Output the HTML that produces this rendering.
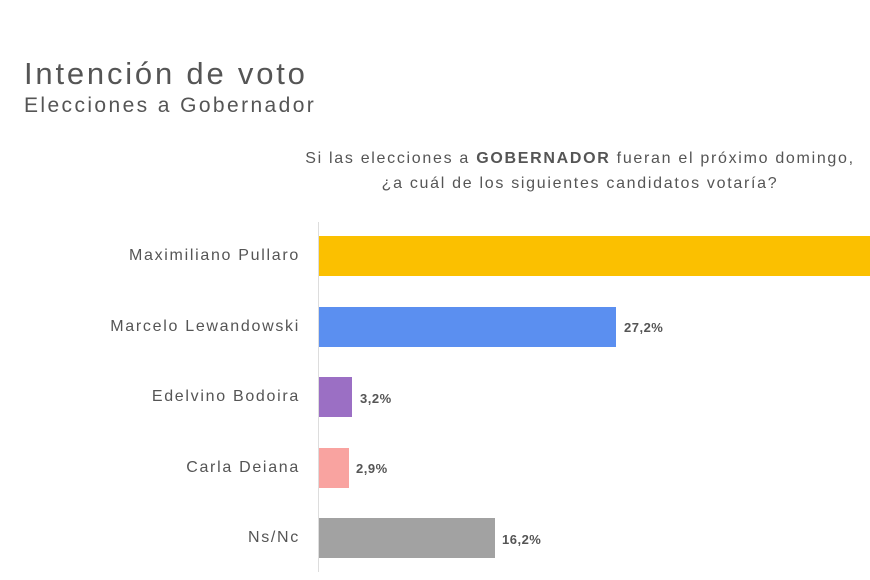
<!DOCTYPE html>
<html><head><meta charset="utf-8"><style>
body{margin:0;width:870px;height:580px;background:#fff;position:relative;overflow:hidden;font-family:"Liberation Sans",sans-serif;color:#555}
.a{position:absolute;white-space:nowrap}
.lbl{position:absolute;right:570px;font-size:16px;color:#555;text-align:right;letter-spacing:1.7px}
.bar{position:absolute;left:319px;height:40px}
.v{position:absolute;font-size:13px;font-weight:bold;color:#555;letter-spacing:0.5px}
</style></head><body>
<div class="a" style="left:24px;top:56px;font-size:31px;color:#555;letter-spacing:2.8px">Intención de voto</div>
<div class="a" style="left:24px;top:94px;font-size:21px;color:#555;letter-spacing:2.4px">Elecciones a Gobernador</div>
<div class="a" style="left:280px;top:146px;width:600px;text-align:center;font-size:16px;line-height:25px;color:#555;letter-spacing:1.7px">Si las elecciones a <b>GOBERNADOR</b> fueran el próximo domingo,<br>¿a cuál de los siguientes candidatos votaría?</div>
<div class="a" style="left:318px;top:222px;width:1px;height:350px;background:#ddd"></div>
<div class="lbl" style="top:247px">Maximiliano Pullaro</div>
<div class="bar" style="top:236px;width:551px;background:#fbc000"></div>
<div class="lbl" style="top:318px">Marcelo Lewandowski</div>
<div class="bar" style="top:307px;width:297px;background:#5b8ff0"></div>
<div class="v" style="left:624px;top:320px">27,2%</div>
<div class="lbl" style="top:388px">Edelvino Bodoira</div>
<div class="bar" style="top:377px;width:33px;background:#9b6fc4"></div>
<div class="v" style="left:360px;top:391px">3,2%</div>
<div class="lbl" style="top:459px">Carla Deiana</div>
<div class="bar" style="top:448px;width:30px;background:#f9a3a0"></div>
<div class="v" style="left:356px;top:461px">2,9%</div>
<div class="lbl" style="top:529px">Ns/Nc</div>
<div class="bar" style="top:518px;width:176px;background:#a2a2a2"></div>
<div class="v" style="left:502px;top:532px">16,2%</div>
</body></html>
